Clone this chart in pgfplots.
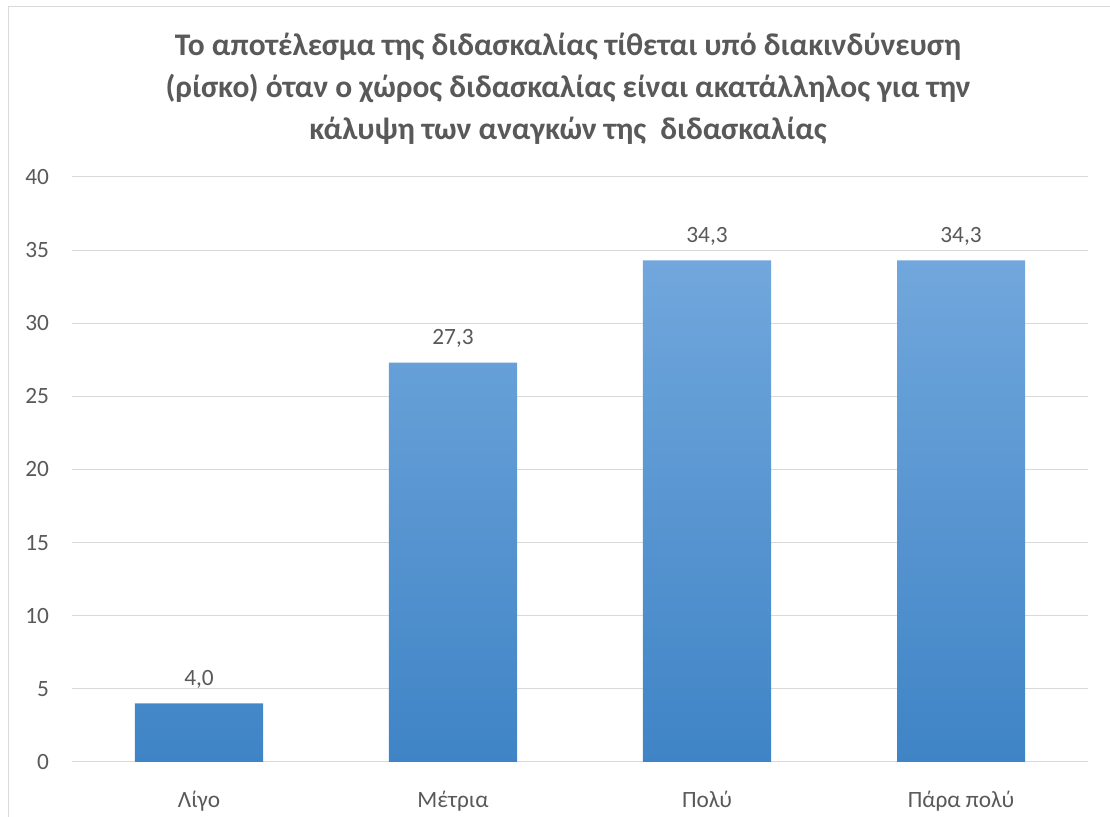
\documentclass[border=0pt]{standalone}
\usepackage{pgfplots}
\pgfplotsset{compat=1.18}
\usepackage{fontspec}
\setmainfont{Carlito}
\definecolor{txt}{HTML}{595959}
\definecolor{gridc}{HTML}{D9D9D9}
\definecolor{btop}{HTML}{71A7DC}
\definecolor{bbot}{HTML}{3F84C6}
\begin{document}
\begin{tikzpicture}
\useasboundingbox (0,0) rectangle (832.5pt,612.75pt);
\draw[gridc,line width=0.75pt] (6pt,0) -- (6pt,607.5pt) -- (832.5pt,607.5pt);
\begin{scope}[every node/.style={anchor=base, text=txt, inner sep=0pt, font=\fontsize{23.6}{28}\selectfont\bfseries}]
\node at (426pt,570.75pt) {Το αποτέλεσμα της διδασκαλίας τίθεται υπό διακινδύνευση};
\node at (426pt,539.25pt) {(ρίσκο) όταν ο χώρος διδασκαλίας είναι ακατάλληλος για την};
\node at (426pt,507.75pt) {κάλυψη των αναγκών της \ διδασκαλίας};
\end{scope}
\begin{axis}[
  at={(54pt,41.25pt)}, anchor=south west,
  scale only axis, width=762pt, height=438.75pt,
  xmin=-0.5, xmax=3.5, ymin=0, ymax=40,
  ytick={0,5,...,40}, xtick={0,1,2,3},
  xticklabels={Λίγο,Μέτρια,Πολύ,Πάρα πολύ},
  axis line style={draw=none}, tick style={draw=none},
  ymajorgrids, grid style={gridc, line width=0.75pt},
  ybar, bar width=0.504,
  ticklabel style={text=txt, font=\fontsize{17.5}{21}\selectfont},
  yticklabel style={anchor=east, inner sep=0pt, xshift=-17pt},
  xticklabel style={anchor=base, inner sep=0pt, yshift=-30pt},
  /pgf/number format/assume math mode=true,
  nodes near coords={\pgfmathprintnumber[fixed,fixed zerofill,precision=1,use comma]{\pgfplotspointmeta}},
  every node near coord/.append style={anchor=base, yshift=13.5pt, inner sep=0pt, text=txt, font=\fontsize{17.5}{21}\selectfont},
  clip=false]
\addplot[draw=none, top color=btop, bottom color=bbot] coordinates {(0,4.0) (1,27.3) (2,34.3) (3,34.3)};
\end{axis}
\end{tikzpicture}
\end{document}
